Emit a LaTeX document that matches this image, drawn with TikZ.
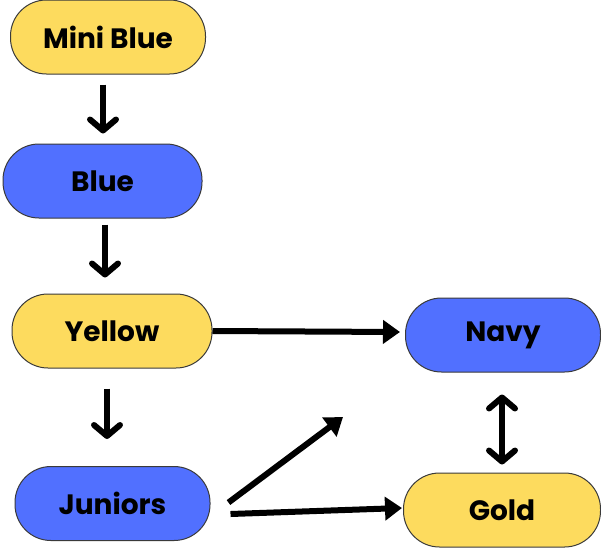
\documentclass[tikz,border=0pt]{standalone}
\usepackage{fontspec}
\setmainfont{Poppins}
\usetikzlibrary{arrows.meta,calc}
\definecolor{yel}{HTML}{FDDB5E}
\definecolor{blu}{HTML}{5170FF}
\definecolor{edge}{HTML}{3A3A3A}
\tikzset{
  pill/.style={draw=edge, line width=1pt, rounded corners=36pt, minimum height=74pt,
    font=\fontsize{28pt}{32pt}\selectfont\bfseries, text=black, inner sep=0pt},
  ypill/.style={pill, fill=yel},
  bpill/.style={pill, fill=blu},
  barb/.style={line width=6pt, -{Straight Barb[length=11pt, width=26pt, round]}},
  dbarb/.style={line width=6pt, {Straight Barb[length=11pt, width=26pt, round]}-{Straight Barb[length=11pt, width=26pt, round]}},
  tri/.style={line width=6pt, -{Triangle[length=17pt, width=23pt]}}
}
\begin{document}
\begin{tikzpicture}[x=1pt, y=-1pt]
\useasboundingbox (0,0) rectangle (601,549);
\node[ypill, minimum width=195pt] (mb) at (108,37) {Mini Blue};
\node[bpill, minimum width=199pt] (bl) at (102.5,181) {Blue};
\node[ypill, minimum width=200pt] (ye) at (112,331) {Yellow};
\node[bpill, minimum width=195pt] (ju) at (112.5,503.5) {Juniors};
\node[bpill, minimum width=195pt] (nv) at (503,335) {Navy};
\node[ypill, minimum width=197pt] (go) at (502,510) {Gold};
\coordinate (free) at (343,417);
\draw[barb] ($(mb.south)+(-5,10)$) -- ($(bl.north)+(0.5,-10)$);
\draw[barb] ($(bl.south)+(2.5,6)$) -- ($(ye.north)+(-7,-16)$);
\draw[barb] ($(ye.south)+(-5,20)$) -- ($(ju.north)+(-5.5,-27)$);
\draw[tri] (ye.east) -- ($(nv.west)+(-5,-3)$);
\draw[tri] ($(ju.east)+(18,-1)$) -- (free);
\draw[tri] ($(ju.east)+(20,10.5)$) -- ($(go.west)+(-1,-2)$);
\draw[dbarb] ($(nv.south)+(-1,22)$) -- ($(go.north)+(0,-8)$);
\end{tikzpicture}
\end{document}
